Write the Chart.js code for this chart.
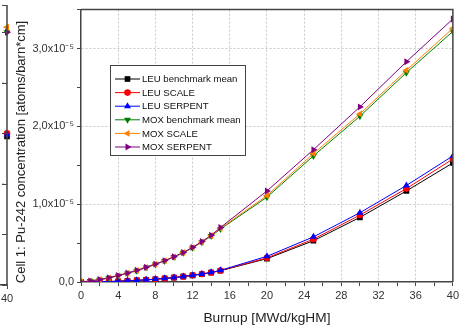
<!DOCTYPE html>
<html>
<head>
<meta charset="utf-8">
<script src="https://cdn.jsdelivr.net/npm/chart.js@4/dist/chart.umd.min.js"></script>
<style>
  body { margin: 0; background: #fff; width: 462px; height: 333px; overflow: hidden; position: relative; }
  canvas { position: absolute; top: 0; }
  #frag { left: -80px; }
  #main { left: 0; }
</style>
</head>
<body>
<canvas id="frag" width="100" height="333"></canvas>
<canvas id="main" width="462" height="333"></canvas>
<script>
// burnup steps [MWd/kgHM]
const burnup = [0, 1, 2, 3, 4, 5, 6, 7, 8, 9, 10, 11, 12, 13, 14, 15, 20, 25, 30, 35, 40];

// Pu-242 concentration, in units of 1e-5 atoms/barn*cm
const leuBenchmark = [0, 0.001, 0.003, 0.006, 0.010, 0.015, 0.020, 0.027, 0.035, 0.045, 0.056, 0.070, 0.085, 0.100, 0.120, 0.145, 0.30, 0.53, 0.83, 1.17, 1.53];
const leuScale     = [0, 0.001, 0.003, 0.006, 0.010, 0.015, 0.021, 0.028, 0.036, 0.046, 0.057, 0.071, 0.086, 0.102, 0.122, 0.147, 0.31, 0.55, 0.86, 1.20, 1.58];
const leuSerpent   = [0, 0.001, 0.003, 0.006, 0.010, 0.016, 0.021, 0.028, 0.037, 0.047, 0.058, 0.072, 0.088, 0.104, 0.124, 0.150, 0.33, 0.58, 0.89, 1.24, 1.62];
const moxBenchmark = [0, 0.012, 0.030, 0.050, 0.080, 0.110, 0.145, 0.185, 0.225, 0.270, 0.320, 0.375, 0.440, 0.510, 0.590, 0.680, 1.09, 1.62, 2.13, 2.69, 3.22];
const moxScale     = [0, 0.012, 0.031, 0.052, 0.082, 0.112, 0.147, 0.187, 0.228, 0.272, 0.322, 0.378, 0.442, 0.515, 0.595, 0.690, 1.11, 1.65, 2.16, 2.72, 3.26];
const moxSerpent   = [0, 0.013, 0.032, 0.055, 0.085, 0.115, 0.150, 0.190, 0.230, 0.275, 0.325, 0.380, 0.445, 0.520, 0.600, 0.700, 1.17, 1.70, 2.25, 2.83, 3.38];

// neighbouring panel (only its last point shows at the left edge)
const fragBurnup = [40];
const fragValues = [[1.47], [1.50], [1.49], [2.50], [2.55], [2.50]];

const yTicks = [0, 1, 2, 3];
const xTicks = [0, 4, 8, 12, 16, 20, 24, 28, 32, 36, 40];

const series = [
  { label: 'LEU benchmark mean', data: leuBenchmark, color: '#000000', style: 'rect', rot: 0 },
  { label: 'LEU SCALE', data: leuScale, color: '#ff0000', style: 'circle', rot: 0 },
  { label: 'LEU SERPENT', data: leuSerpent, color: '#0000ff', style: 'triangle', rot: 0 },
  { label: 'MOX benchmark mean', data: moxBenchmark, color: '#008000', style: 'triangle', rot: 180 },
  { label: 'MOX SCALE', data: moxScale, color: '#ff8000', style: 'triangle', rot: 270 },
  { label: 'MOX SERPENT', data: moxSerpent, color: '#800080', style: 'triangle', rot: 90 }
];

const yTitle = 'Cell 1: Pu-242 concentration [atoms/barn*cm]';
const fontFamily = '"Liberation Sans", Arial, sans-serif';
const gridGray = '#c8c8c8';
const axisGray = '#444444';

function makeDatasets(xs, valueLists) {
  return series.map((s, i) => ({
    label: s.label,
    data: xs.map((x, j) => ({ x: x, y: valueLists[i][j] })),
    borderColor: s.color,
    backgroundColor: s.color,
    borderWidth: 1,
    pointStyle: s.style,
    pointRotation: s.rot,
    pointRadius: s.style === 'circle' ? 3.3 : 4,
    pointBorderWidth: 0,
    order: series.length - i,
    tension: 0
  }));
}

const framePlugin = {
  id: 'frame',
  afterDraw(chart) {
    const a = chart.chartArea;
    const ctx = chart.ctx;
    ctx.save();
    ctx.strokeStyle = axisGray;
    ctx.lineWidth = 1.5;
    ctx.beginPath();
    ctx.moveTo(a.left, a.top);
    ctx.lineTo(a.right, a.top);
    ctx.lineTo(a.right, a.bottom);
    ctx.stroke();

    // y axis title, sits a bit below the plot centre like the original
    ctx.translate(21, 152);
    ctx.rotate(-Math.PI / 2);
    ctx.font = '13px ' + fontFamily;
    ctx.fillStyle = '#222';
    ctx.textAlign = 'center';
    ctx.textBaseline = 'middle';
    ctx.fillText(yTitle, 0, 0);
    ctx.restore();
  }
};

const legendPlugin = {
  id: 'boxLegend',
  afterDatasetsDraw(chart) {
    const ctx = chart.ctx;
    const bx = 110, by = 65, bw = 135, bh = 90;
    ctx.save();
    ctx.fillStyle = '#ffffff';
    ctx.fillRect(bx, by, bw, bh);
    ctx.strokeStyle = axisGray;
    ctx.lineWidth = 1;
    ctx.strokeRect(bx + 0.5, by + 0.5, bw, bh);
    ctx.font = '9.6px ' + fontFamily;
    ctx.textBaseline = 'middle';
    chart.data.datasets.forEach((ds, i) => {
      const y = by + 14 + i * 13.6;
      ctx.strokeStyle = ds.borderColor;
      ctx.lineWidth = 1;
      ctx.beginPath();
      ctx.moveTo(bx + 5, y);
      ctx.lineTo(bx + 30, y);
      ctx.stroke();
      ctx.fillStyle = ds.backgroundColor;
      Chart.helpers.drawPoint(ctx, { pointStyle: ds.pointStyle, rotation: ds.pointRotation, radius: ds.pointRadius, borderWidth: 0 }, bx + 17.5, y);
      ctx.fillStyle = '#111';
      ctx.fillText(ds.label, bx + 32, y + 0.5);
    });
    ctx.restore();
  }
};

new Chart(document.getElementById('main').getContext('2d'), {
  type: 'line',
  data: { datasets: makeDatasets(burnup, series.map(s => s.data)) },
  options: {
    responsive: false,
    animation: false,
    layout: { padding: { top: 5, right: 8, left: 0, bottom: 0 } },
    plugins: { legend: { display: false }, tooltip: { enabled: false } },
    scales: {
      x: {
        type: 'linear',
        min: 0,
        max: 40,
        afterFit: scale => { scale.height = 51; },
        ticks: {
          stepSize: 2,
          autoSkip: false,
          maxRotation: 0,
          padding: 3,
          color: '#333',
          font: { family: fontFamily, size: 11 },
          callback: v => xTicks.includes(v) ? String(v) : ''
        },
        grid: {
          color: c => (c.tick && c.tick.value % 4 === 0 && c.tick.value > 0 && c.tick.value < 40) ? gridGray : 'rgba(0,0,0,0)',
          tickColor: axisGray,
          tickLength: 4,
          lineWidth: 1
        },
        border: { color: axisGray, width: 1.5, dash: [2, 2] },
        title: {
          display: true,
          text: 'Burnup [MWd/kgHM]',
          color: '#222',
          font: { family: fontFamily, size: 13.7 },
          padding: { top: 0, bottom: 7 }
        }
      },
      y: {
        min: 0,
        max: 3.5,
        afterFit: scale => { scale.width = 81; },
        ticks: {
          stepSize: 0.5,
          autoSkip: false,
          padding: 3,
          color: '#333',
          font: { family: fontFamily, size: 11 },
          callback: v => {
            if (!yTicks.includes(v)) return '';
            return v === 0 ? '0,0' : v.toFixed(1).replace('.', ',') + 'x10\u207B\u2075';
          }
        },
        grid: {
          color: c => (c.tick && yTicks.includes(c.tick.value) && c.tick.value > 0) ? gridGray : 'rgba(0,0,0,0)',
          tickColor: axisGray,
          tickLength: 4,
          lineWidth: 1
        },
        border: { color: axisGray, width: 1.5, dash: [2, 2] }
      }
    }
  },
  plugins: [framePlugin, legendPlugin]
});

// the neighbouring panel, cut off at the left edge
const fragFrame = {
  id: 'fragFrame',
  afterDraw(chart) {
    const a = chart.chartArea;
    const ctx = chart.ctx;
    const ys = chart.scales.y;
    ctx.save();
    ctx.strokeStyle = axisGray;
    ctx.lineWidth = 1.5;
    ctx.beginPath();
    ctx.moveTo(a.right, a.top);
    ctx.lineTo(a.right, a.bottom);
    ctx.stroke();
    ctx.lineWidth = 1;
    ys.ticks.forEach(t => {
      const p = Math.round(ys.getPixelForValue(t.value)) + 0.5;
      ctx.beginPath();
      ctx.moveTo(a.right - 5, p);
      ctx.lineTo(a.right, p);
      ctx.stroke();
    });
    ctx.restore();
  }
};

const fragDatasets = makeDatasets(fragBurnup, fragValues).map(d => Object.assign(d, { clip: false }));

new Chart(document.getElementById('frag').getContext('2d'), {
  type: 'line',
  data: { datasets: fragDatasets },
  options: {
    responsive: false,
    animation: false,
    layout: { padding: { top: 5, right: 13, left: 0, bottom: 0 } },
    plugins: { legend: { display: false }, tooltip: { enabled: false } },
    scales: {
      x: {
        type: 'linear',
        min: 30,
        max: 40,
        afterFit: scale => { scale.height = 48; },
        ticks: {
          stepSize: 10,
          maxRotation: 0,
          padding: 3,
          color: '#333',
          font: { family: fontFamily, size: 11 },
          callback: v => v === 40 ? '40' : ''
        },
        grid: { color: 'rgba(0,0,0,0)', tickColor: axisGray, tickLength: 4 },
        border: { color: axisGray, width: 1.5 }
      },
      y: {
        min: 0,
        max: 2.77,
        afterFit: scale => { scale.width = 10; },
        ticks: { stepSize: 0.5, display: false },
        grid: {
          color: c => (c.tick && (c.tick.value === 1 || c.tick.value === 2)) ? gridGray : 'rgba(0,0,0,0)',
          drawTicks: false
        },
        border: { display: false, dash: [2, 2] }
      }
    }
  },
  plugins: [fragFrame]
});
</script>
</body>
</html>
